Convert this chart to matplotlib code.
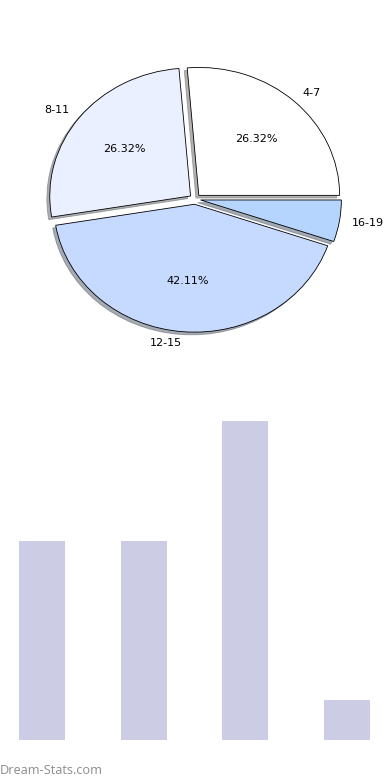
import matplotlib
matplotlib.use("Agg")
import matplotlib.pyplot as plt

categories = ["4-7", "8-11", "12-15", "16-19"]
values = [5, 5, 8, 1]
pie_colors = ["#ffffff", "#eaf0ff", "#c6d9ff", "#b5d5ff"]
bar_color = "#cccce4"

fig = plt.figure(figsize=(3.9, 7.8), dpi=100)

# Pie chart
ax1 = fig.add_axes([0.0487, 0.5397, 0.9026, 0.410])
ax1.pie(values, labels=categories, colors=pie_colors, explode=[0.04] * 4,
        startangle=0, counterclock=True,
        shadow={"ox": -0.015, "oy": -0.015, "shade": 0.6},
        labeldistance=1.09,
        autopct=lambda p: f"{p:.2f}%" if p > 6 else "",
        wedgeprops=dict(edgecolor="black", linewidth=0.6),
        textprops=dict(fontsize=8))
ax1.set_aspect("auto")
ax1.set_xlim(-1.25, 1.25)
ax1.set_ylim(-1.25, 1.25)
ax1.axis("off")

# Bar chart
ax2 = fig.add_axes([0.0, (780 - 740) / 780, 1.0, 340 / 780])
xs = list(range(len(values)))
ax2.bar(xs, values, width=0.45, color=bar_color)
ax2.set_xlim(-0.413, 3.423)
ax2.set_ylim(0, 8 * 340 / 319)
ax2.axis("off")

fig.text(0.0, 0.004, "Dream-Stats.com", fontsize=9.2, color="#8c8c8c",
         family="Open Sans", ha="left", va="bottom")

fig.savefig("out.png", dpi=100)
